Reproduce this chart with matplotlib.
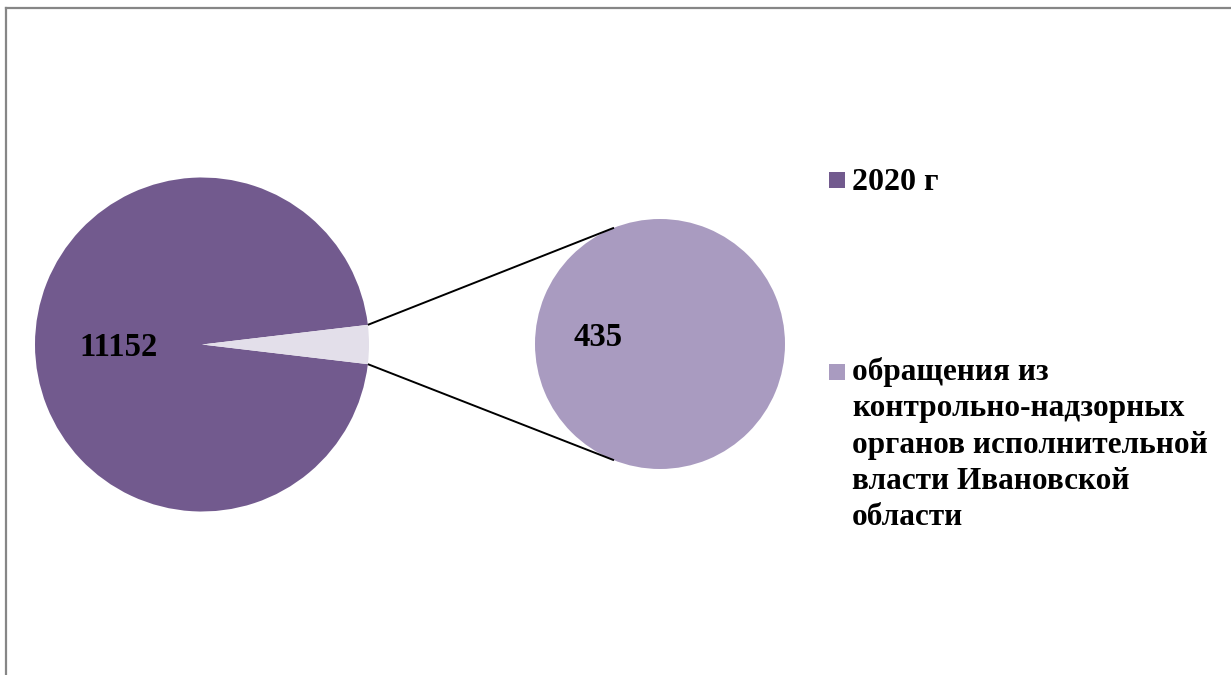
import numpy as np
import matplotlib
matplotlib.use("Agg")
import matplotlib.pyplot as plt
from matplotlib.patches import Rectangle
from matplotlib.lines import Line2D

# ---- data ----
main_labels = ["2020 г", "обращения из контрольно-надзорных органов исполнительной власти Ивановской области"]
main_values = [11152, 435]
sub_values = [435]
legend_labels = ["2020 г", "обращения из\nконтрольно-надзорных\nорганов исполнительной\nвласти Ивановской\nобласти"]

# ---- style ----
c_main = "#725A8E"
c_small = "#E3DFEA"
c_sub = "#A99BC0"
font = ["Liberation Serif", "DejaVu Serif"]
W, H = 1231, 675

fig = plt.figure(figsize=(W / 100, H / 100), dpi=100)
ax = fig.add_axes([0, 0, 1, 1])

total = sum(main_values)
half_angle = main_values[1] / total * 180.0
main_center = (202, H - 344.5)
main_r = 167
sub_center = (660, H - 344)
sub_r = 125

ax.pie(main_values, colors=[c_main, c_small], startangle=half_angle,
       center=main_center, radius=main_r, frame=True,
       wedgeprops=dict(linewidth=0))
ax.pie(sub_values, colors=[c_sub], center=sub_center, radius=sub_r, frame=True,
       wedgeprops=dict(linewidth=0))

# connector lines
a = np.deg2rad(half_angle)
b = np.deg2rad(111.6)
for s in (1, -1):
    x0 = main_center[0] + main_r * np.cos(a)
    y0 = main_center[1] + s * main_r * np.sin(a)
    x1 = sub_center[0] + sub_r * np.cos(b)
    y1 = sub_center[1] + s * sub_r * np.sin(b)
    ax.plot([x0, x1], [y0, y1], color="black", lw=1.4, solid_capstyle="butt")

# data labels
ax.text(118, H - 347, str(main_values[0]), ha="center", va="center",
        fontsize=23.5, fontweight="bold", family=font)
ax.text(598, H - 337, str(sub_values[0]), ha="center", va="center",
        fontsize=23.5, fontweight="bold", family=font)

# legend
ax.add_patch(Rectangle((829, H - 188), 16, 16, color=c_main, lw=0))
ax.text(852, H - 182, legend_labels[0], ha="left", va="center",
        fontsize=23, fontweight="bold", family=font)
ax.add_patch(Rectangle((829, H - 380), 16, 16, color=c_sub, lw=0))
ax.text(852, H - 357, legend_labels[1], ha="left", va="top",
        fontsize=22.5, fontweight="bold", family=font, linespacing=1.33)

ax.set_xlim(0, W)
ax.set_ylim(0, H)
ax.set_aspect("auto")
ax.axis("off")

# frame border
fig.add_artist(Line2D([6 / W, 1], [1 - 8 / H, 1 - 8 / H], color="#868686", lw=1.6,
                      transform=fig.transFigure))
fig.add_artist(Line2D([6 / W, 6 / W], [0, 1 - 8 / H], color="#868686", lw=1.6,
                      transform=fig.transFigure))

fig.savefig("out.png", dpi=100, facecolor="white")
